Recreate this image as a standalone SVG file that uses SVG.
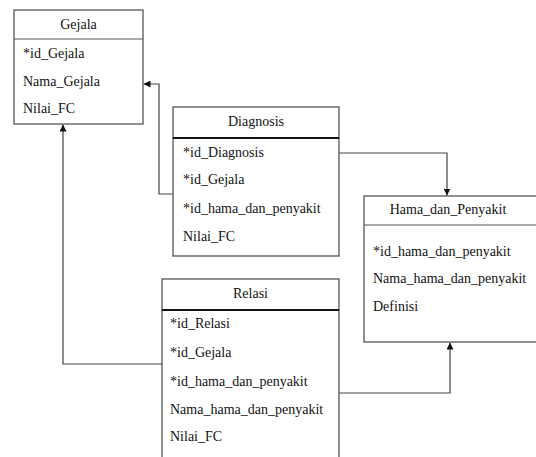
<svg xmlns="http://www.w3.org/2000/svg" width="536" height="457" viewBox="0 0 536 457">
  <style>
    .box { fill: #ffffff; stroke: #555555; stroke-width: 1.3; }
    .sep { stroke: #555555; stroke-width: 1.2; }
    .sep-bold { stroke: #111111; stroke-width: 2; }
    .title { font-family: "Liberation Serif", "Times New Roman", serif; font-size: 14px; fill: #111111; text-anchor: middle; }
    .attr { font-family: "Liberation Serif", "Times New Roman", serif; font-size: 14px; fill: #111111; }
    .link { fill: none; stroke: #444444; stroke-width: 1.2; }
  </style>
  <defs>
    <marker id="arrow" viewBox="0 0 10 10" refX="10" refY="5" markerWidth="7" markerHeight="7" orient="auto-start-reverse" markerUnits="userSpaceOnUse">
      <path d="M0,0 L10,5 L0,10 z" fill="#111111"/>
    </marker>
  </defs>

  <rect width="536" height="457" fill="#ffffff"/>

  <g id="connectors">
    <!-- Diagnosis.id_Gejala -> Gejala -->
    <path class="link" d="M173,194 L159,194 L159,84 L143.5,84" marker-end="url(#arrow)"/>
    <!-- Diagnosis.id_Diagnosis -> Hama_dan_Penyakit -->
    <path class="link" d="M339,153 L447,153 L447,195.5" marker-end="url(#arrow)"/>
    <!-- Relasi.id_Gejala -> Gejala -->
    <path class="link" d="M162,364 L63,364 L63,124.5" marker-end="url(#arrow)"/>
    <!-- Relasi.id_hama_dan_penyakit -> Hama_dan_Penyakit -->
    <path class="link" d="M339,393 L450,393 L450,342.5" marker-end="url(#arrow)"/>
  </g>

  <g id="gejala">
    <rect class="box" x="14" y="10" width="129" height="114"/>
    <line class="sep" x1="14" y1="39" x2="143" y2="39"/>
    <text class="title" x="78.5" y="29">Gejala</text>
    <text class="attr" x="23" y="58">*id_Gejala</text>
    <text class="attr" x="23" y="85.5">Nama_Gejala</text>
    <text class="attr" x="23" y="113">Nilai_FC</text>
  </g>

  <g id="diagnosis">
    <rect class="box" x="173" y="107" width="166" height="149"/>
    <line class="sep-bold" x1="173" y1="138" x2="339" y2="138"/>
    <text class="title" x="256" y="126">Diagnosis</text>
    <text class="attr" x="183" y="157">*id_Diagnosis</text>
    <text class="attr" x="183" y="184">*id_Gejala</text>
    <text class="attr" x="183" y="213">*id_hama_dan_penyakit</text>
    <text class="attr" x="183" y="241">Nilai_FC</text>
  </g>

  <g id="hama_dan_penyakit">
    <rect class="box" x="364" y="196" width="180" height="146"/>
    <line class="sep" x1="364" y1="225" x2="544" y2="225"/>
    <text class="title" x="448" y="214">Hama_dan_Penyakit</text>
    <text class="attr" x="373" y="256">*id_hama_dan_penyakit</text>
    <text class="attr" x="373" y="283">Nama_hama_dan_penyakit</text>
    <text class="attr" x="373" y="311">Definisi</text>
  </g>

  <g id="relasi">
    <rect class="box" x="162" y="279" width="177" height="190"/>
    <line class="sep-bold" x1="162" y1="310" x2="339" y2="310"/>
    <text class="title" x="250.5" y="298">Relasi</text>
    <text class="attr" x="170" y="328">*id_Relasi</text>
    <text class="attr" x="170" y="357">*id_Gejala</text>
    <text class="attr" x="170" y="386">*id_hama_dan_penyakit</text>
    <text class="attr" x="170" y="414">Nama_hama_dan_penyakit</text>
    <text class="attr" x="170" y="441">Nilai_FC</text>
  </g>
</svg>
